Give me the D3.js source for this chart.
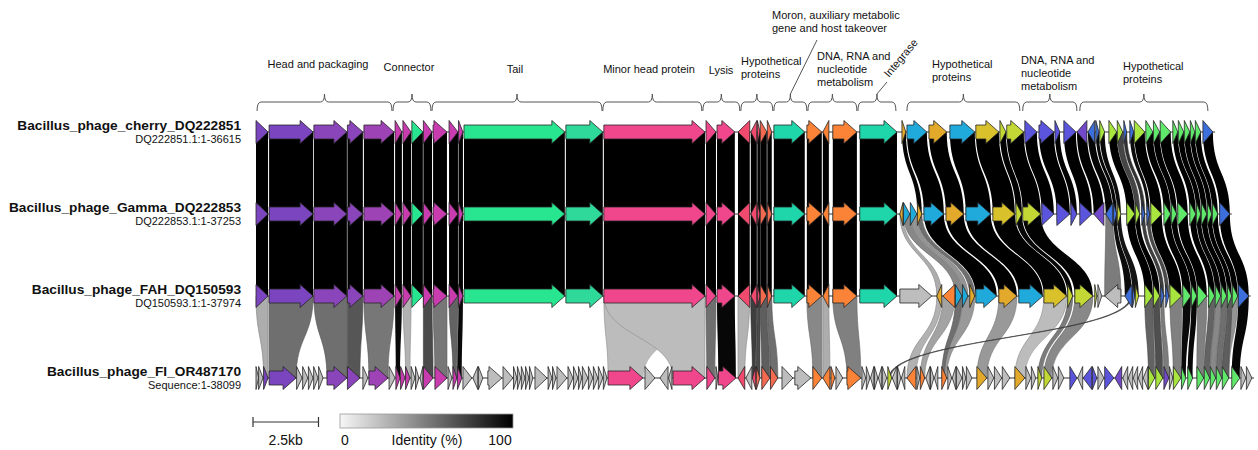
<!DOCTYPE html>
<html>
<head>
<meta charset="utf-8">
<title>Bacillus phage synteny</title>
<style>
body { margin: 0; background: #fff; }
text { font-family: "Liberation Sans", Arial, sans-serif; fill: #111; }
.brace { fill: none; stroke: #555; stroke-width: 1; }
.gene { stroke: #262626; stroke-width: 0.8; stroke-linejoin: miter; }
.backbone { stroke: #333; stroke-width: 1; }
</style>
</head>
<body>
<script src="https://cdn.jsdelivr.net/npm/d3@7"></script>
<script>
// ---- data (positions in kb) ----
var trackNames = ["Bacillus_phage_cherry_DQ222851", "Bacillus_phage_Gamma_DQ222853",
                  "Bacillus_phage_FAH_DQ150593", "Bacillus_phage_FI_OR487170"];
var trackRanges = ["DQ222851.1:1-36615", "DQ222853.1:1-37253", "DQ150593.1:1-37974", "Sequence:1-38099"];
var trackLengths = [36.615, 37.253, 37.974, 38.099];

// gene = [start, end, strand, colour group]
// structural block, identical in cherry, Gamma and FAH
var coreGenes = [
  [0.00,0.46,1,"P1"],[0.50,2.18,1,"P1"],[2.21,3.47,1,"P2"],[3.49,4.08,1,"P2"],[4.12,5.27,1,"P3"],
  [5.31,5.57,1,"M"],[5.61,5.92,1,"M"],[5.95,6.37,1,"G"],[6.39,6.72,1,"M"],[6.76,7.29,1,"M"],
  [7.37,7.71,1,"M"],[7.73,7.90,1,"M"],[7.94,11.79,1,"G"],[11.83,13.24,1,"T"],[13.28,17.14,1,"K"],
  [17.18,17.56,1,"K"],[17.60,18.28,1,"K"],[18.40,18.85,-1,"R"],[18.89,19.12,-1,"R"],[19.14,19.24,1,"R"],
  [19.25,19.50,1,"Q"],[19.52,19.69,1,"Q"],[19.77,20.95,1,"S"],[21.03,21.60,1,"O"],[21.64,21.87,-1,"O"],
  [22.02,22.94,1,"O"],[23.05,24.47,1,"S"]
];
var cherryRight = [
  [24.66,24.81,1,"Y"],[24.85,25.61,1,"C"],[25.69,26.37,1,"Y"],[26.49,27.44,1,"C"],[27.48,28.36,1,"U"],
  [28.40,28.63,1,"L"],[28.66,29.31,1,"L"],[29.35,29.81,1,"I"],[29.89,30.46,1,"I"],[30.50,30.69,1,"I"],
  [30.84,31.30,1,"I"],[31.34,31.72,-1,"V"],[31.76,32.02,-1,"B"],[32.06,32.18,1,"B"],[32.21,32.40,1,"N"],
  [32.56,32.86,1,"N"],[32.88,33.09,1,"N"],[33.13,33.24,1,"B"],[33.36,33.51,1,"B"],[33.53,33.93,1,"N"],
  [33.97,34.24,1,"E"],[34.26,34.50,1,"E"],[34.52,34.92,1,"E"],[35.00,35.19,1,"E"],[35.21,35.42,1,"E"],
  [35.44,35.65,1,"E"],[35.67,35.84,1,"E"],[35.86,36.07,1,"E"],[36.15,36.53,1,"B"]
];
var gammaRight = [
  [24.58,24.70,-1,"Y"],[24.72,24.96,1,"C"],[24.98,25.23,1,"C"],[25.25,25.42,1,"Y"],[25.50,26.26,1,"C"],
  [26.34,27.02,1,"Y"],[27.10,28.05,1,"C"],[28.13,28.97,1,"U"],[29.01,29.24,1,"L"],[29.27,29.96,1,"L"],
  [30.00,30.46,1,"I"],[30.57,31.07,1,"I"],[31.11,31.34,1,"I"],[31.45,31.91,1,"I"],[31.98,32.37,-1,"V"],
  [32.44,32.71,-1,"B"],[32.73,32.86,1,"B"],[32.88,33.02,1,"L"],[33.24,33.55,1,"N"],[33.57,33.74,1,"N"],
  [33.82,33.93,1,"B"],[34.01,34.12,1,"B"],[34.16,34.58,1,"N"],[34.66,34.92,1,"E"],[34.94,35.15,1,"E"],
  [35.19,35.57,1,"E"],[35.65,35.88,1,"E"],[35.90,36.07,1,"E"],[36.09,36.30,1,"E"],[36.32,36.49,1,"E"],
  [36.51,36.72,1,"E"],[36.79,37.18,1,"B"]
];
var fahRight = [
  [24.58,25.80,1,"X"],[25.99,26.18,-1,"Y"],[26.22,26.68,-1,"O"],[26.70,26.95,1,"C"],[26.97,27.18,1,"C"],
  [27.25,27.44,1,"Y"],[27.48,28.28,1,"C"],[28.36,29.05,1,"Y"],[29.12,30.04,1,"C"],[30.08,30.95,1,"U"],
  [30.99,31.18,1,"L"],[31.26,31.95,1,"L"],[32.02,32.10,1,"L"],[32.14,32.29,1,"X"],[32.40,33.02,-1,"X"],
  [33.17,33.44,-1,"B"],[33.46,33.55,1,"B"],[33.57,33.70,1,"L"],[33.93,34.24,1,"N"],[34.26,34.50,1,"N"],
  [34.54,34.66,1,"B"],[34.73,34.85,1,"B"],[34.89,35.34,1,"N"],[35.38,35.69,1,"E"],[35.71,35.92,1,"E"],
  [35.94,36.30,1,"E"],[36.37,36.60,1,"E"],[36.62,36.83,1,"E"],[36.85,37.06,1,"E"],[37.08,37.25,1,"E"],
  [37.27,37.48,1,"E"],[37.50,37.90,1,"B"]
];
var fiGenes = [
  [0.00,0.10,1,"X"],[0.10,0.27,1,"X"],[0.29,0.46,1,"P1"],[0.50,1.53,1,"P1"],[1.55,1.76,1,"X"],
  [1.78,1.98,1,"X"],[2.00,2.18,1,"X"],[2.20,2.37,1,"X"],[2.39,2.56,1,"X"],[2.71,3.47,1,"P2"],
  [3.49,3.97,1,"P2"],[4.08,4.27,1,"X"],[4.31,5.04,1,"P3"],[5.08,5.31,1,"X"],[5.34,5.50,1,"M"],
  [5.52,5.69,1,"M"],[5.71,5.88,1,"M"],[5.92,6.07,1,"X"],[6.09,6.22,1,"X"],[6.26,6.37,-1,"X"],
  [6.39,6.76,1,"M"],[6.83,7.29,1,"M"],[7.33,7.48,1,"X"],[7.52,7.67,1,"M"],[7.69,7.86,1,"M"],
  [7.90,8.24,1,"X"],[8.28,8.47,-1,"X"],[8.49,8.66,1,"X"],[8.85,9.39,1,"X"],[9.43,9.81,1,"X"],
  [9.83,9.96,1,"X"],[9.98,10.11,1,"X"],[10.13,10.27,1,"X"],[10.29,10.42,1,"X"],[10.44,10.57,1,"X"],
  [10.65,11.11,1,"X"],[11.15,11.30,1,"X"],[11.32,11.45,1,"X"],[11.49,11.87,1,"X"],[11.91,12.10,1,"X"],
  [12.12,12.29,1,"X"],[12.31,12.44,1,"X"],[12.46,12.67,1,"X"],[12.69,12.86,1,"X"],[12.88,13.05,1,"X"],
  [13.07,13.24,1,"X"],[13.26,13.40,1,"X"],[13.44,14.77,1,"K"],[14.85,15.23,1,"X"],[15.42,15.73,-1,"X"],
  [15.75,15.88,-1,"X"],[15.92,17.14,1,"K"],[17.21,17.52,1,"K"],[17.56,17.63,1,"X"],[17.65,18.32,1,"K"],
  [18.40,18.66,-1,"R"],[18.70,18.93,-1,"X"],[18.95,19.08,-1,"R"],[19.10,19.24,1,"Q"],[19.31,19.62,1,"Q"],
  [19.64,19.92,1,"Q"],[20.08,20.50,1,"X"],[20.57,21.18,1,"X"],[21.26,21.60,1,"O"],[21.64,21.91,-1,"O"],
  [21.95,22.10,1,"O"],[22.14,22.40,1,"X"],[22.56,23.09,1,"O"],[23.13,23.28,1,"X"],[23.30,23.44,1,"X"],
  [23.46,23.59,-1,"X"],[23.61,23.74,1,"X"],[23.76,23.89,-1,"X"],[23.91,24.08,1,"X"],[24.12,24.27,1,"L"],
  [24.29,24.47,-1,"X"],[24.49,24.62,1,"X"],[24.64,24.77,-1,"X"],[24.85,25.19,-1,"O"],[25.23,25.34,1,"X"],
  [25.36,25.53,1,"O"],[25.57,25.73,-1,"X"],[25.75,25.88,1,"X"],[25.90,26.03,-1,"X"],[26.18,26.37,1,"O"],
  [26.41,26.56,1,"X"],[26.58,26.72,-1,"X"],[26.74,26.95,1,"X"],[26.97,27.10,1,"X"],[27.12,27.33,1,"X"],
  [27.52,27.90,1,"Y"],[27.94,28.17,1,"X"],[28.19,28.47,1,"X"],[28.49,28.78,1,"X"],[28.97,29.35,1,"Y"],
  [29.39,29.58,1,"X"],[29.60,29.77,1,"X"],[29.85,30.00,1,"L"],[30.08,30.38,1,"L"],[30.42,30.61,1,"X"],
  [30.63,30.84,1,"X"],[31.07,31.34,1,"I"],[31.37,31.56,-1,"X"],[31.58,31.91,-1,"I"],[31.93,32.10,1,"I"],
  [32.14,32.37,1,"X"],[32.40,32.75,1,"I"],[32.79,33.05,-1,"V"],[33.09,33.28,-1,"X"],[33.30,33.47,-1,"X"],
  [33.49,33.66,-1,"X"],[33.68,33.85,-1,"X"],[33.87,34.05,-1,"X"],[34.07,34.31,1,"N"],[34.35,34.62,1,"N"],
  [34.66,34.85,1,"V"],[34.87,35.00,1,"X"],[35.02,35.31,1,"N"],[35.33,35.50,1,"E"],[35.57,35.76,1,"E"],
  [35.92,36.18,1,"E"],[36.20,36.41,1,"E"],[36.43,36.64,1,"E"],[36.66,36.87,1,"E"],[36.89,37.14,1,"E"],
  [37.25,37.56,1,"E"],[37.60,37.79,1,"X"],[37.81,38.02,1,"X"]
];

// identity (%) of the structural block, gene by gene
var coreIdentity12 = [100,100,100,100,100,100,100,100,100,100,100,100,100,100,100,100,100,100,100,100,100,100,100,100,100,100,100];
var coreIdentity23 = [100,100,100,100,100,100,100,100,100,100,100,100,100,100,100,100,100,100,100,100,100,100,100,100,100,100,100];

// link = [upper start, upper end, lower start, lower end, identity %]
var links12Right = [
  [24.66,24.81,25.25,25.42,98],[24.85,25.61,25.50,26.26,100],[25.69,26.37,26.34,27.02,100],
  [26.49,27.44,27.10,28.05,100],[27.48,28.36,28.13,28.97,100],[28.40,28.63,29.01,29.24,99],
  [28.66,29.31,29.27,29.96,100],[29.35,29.81,30.00,30.46,100],[29.89,30.46,30.57,31.07,100],
  [30.50,30.69,31.11,31.34,99],[30.84,31.30,31.45,31.91,100],[31.34,31.72,31.98,32.37,100],
  [31.76,32.02,32.44,32.71,98],[32.06,32.18,32.73,32.86,97],[32.21,32.40,32.88,33.02,96],
  [32.56,32.86,33.24,33.55,100],[32.88,33.09,33.57,33.74,72],[33.13,33.24,33.82,33.93,80],
  [33.36,33.51,34.01,34.12,95],[33.53,33.93,34.16,34.58,100],[33.97,34.24,34.66,34.92,100],
  [34.26,34.50,34.94,35.15,100],[34.52,34.92,35.19,35.57,100],[35.00,35.19,35.65,35.88,100],
  [35.21,35.42,35.90,36.07,100],[35.44,35.65,36.09,36.30,100],[35.67,35.84,36.32,36.49,100],
  [35.86,36.07,36.51,36.72,100],[36.15,36.53,36.79,37.18,100]
];
var links23Right = [
  [24.58,24.70,25.99,26.18,30],[24.72,24.96,26.70,26.95,45],[24.98,25.23,26.97,27.18,40],
  [25.25,25.42,27.25,27.44,55],[25.50,26.26,27.48,28.28,100],[26.34,27.02,28.36,29.05,100],
  [27.10,28.05,29.12,30.04,100],[28.13,28.97,30.08,30.95,99],[29.01,29.24,30.99,31.18,97],
  [29.27,29.96,31.26,31.95,99],[32.44,32.71,32.40,33.02,50],[32.73,32.86,33.17,33.44,95],
  [32.88,33.02,33.46,33.70,92],[33.24,33.55,33.93,34.24,100],[33.57,33.74,34.26,34.50,100],
  [33.82,33.93,34.54,34.66,75],[34.01,34.12,34.73,34.85,70],[34.16,34.58,34.89,35.34,100],
  [34.66,34.92,35.38,35.69,100],[34.94,35.15,35.71,35.92,100],[35.19,35.57,35.94,36.30,100],
  [35.65,35.88,36.37,36.60,100],[35.90,36.07,36.62,36.83,98],[36.09,36.30,36.85,37.06,100],
  [36.32,36.49,37.08,37.25,100],[36.51,36.72,37.27,37.48,100],[36.79,37.18,37.50,37.90,100]
];
var links34 = [
  [0.00,0.46,0.29,0.46,30],[0.50,2.18,0.50,1.53,55],[2.21,3.47,2.71,3.47,55],[3.49,4.08,3.49,3.97,65],
  [4.12,5.27,4.31,5.04,52],[5.31,5.57,5.34,5.50,96],[5.61,5.92,5.71,5.88,28],[6.39,6.72,6.39,6.76,70],
  [6.76,7.29,6.83,7.29,52],[7.37,7.71,7.52,7.67,60],[7.73,7.90,7.69,7.86,96],
  [13.28,17.14,13.44,14.77,24],[13.28,17.14,15.92,17.14,24],
  [17.18,17.56,17.21,17.52,55],[17.60,18.28,17.65,18.32,97],[18.40,18.85,18.40,18.66,28],
  [18.89,19.12,18.95,19.08,75],[19.14,19.24,19.10,19.24,70],[19.25,19.50,19.31,19.62,62],
  [19.52,19.69,19.64,19.92,55],[21.03,21.60,21.26,21.60,45],[21.64,21.87,21.64,21.91,30],
  [22.02,22.94,22.56,23.09,48],
  [25.99,26.18,24.85,25.19,28],[26.22,26.68,25.36,25.53,34],[26.70,26.95,26.18,26.28,55],
  [26.97,27.44,26.28,26.37,38],[28.36,29.05,27.52,27.90,38],[30.08,30.95,28.97,29.35,24],
  [30.99,31.18,29.85,30.00,50],[31.26,31.95,30.08,30.38,45],[33.38,33.44,24.17,24.23,70],
  [33.93,34.24,34.07,34.31,60],[34.26,34.50,34.35,34.62,68],[34.54,34.66,34.66,34.85,50],
  [34.89,35.34,35.02,35.31,48],[35.38,35.69,35.33,35.50,96],[35.71,35.92,35.57,35.76,97],
  [35.94,36.30,35.92,36.18,48],[36.37,36.60,36.20,36.41,60],[36.62,36.83,36.43,36.64,45],
  [36.85,37.06,36.66,36.87,55],[37.08,37.25,36.89,37.14,62],[37.27,37.48,36.89,37.14,40],
  [37.50,37.90,37.25,37.56,97]
];

var groupLabels = ["Head and packaging", "Connector", "Tail", "Minor head protein", "Lysis",
  "Hypothetical\nproteins", "Moron, auxiliary metabolic\ngene and host takeover",
  "DNA, RNA and\nnucleotide\nmetabolism", "Integrase", "Hypothetical\nproteins",
  "DNA, RNA and\nnucleotide\nmetabolism", "Hypothetical\nproteins"];
var groupStart = [0.04, 5.23, 6.72, 13.24, 17.06, 18.51, 19.77, 21.07, 22.98, 24.85, 29.27, 31.45];
var groupEnd   = [5.19, 6.68, 13.21, 17.02, 18.47, 19.73, 21.03, 22.94, 24.43, 29.16, 31.34, 36.34];

var colorKeys = ["P1","P2","P3","M","G","T","K","R","Q","S","O","C","Y","U","L","I","V","B","N","E","X"];
var colorVals = ["#7b45bf","#8a45ba","#9d43b5","#c83cb0","#28e58f","#2fd99a","#f0468c","#f04a6e","#f26a50","#1fd6aa",
                 "#fa8338","#20a9db","#e2a92b","#d9c12b","#c3d735","#5a55dc","#7249c8","#3c6fdb","#a8e63f","#5fe86a","#bdbdbd"];

// ---- build tables ----
var tracks = [coreGenes.concat(cherryRight), coreGenes.concat(gammaRight), coreGenes.concat(fahRight), fiGenes];
var bands = [
  coreGenes.map(function(g, i){ return [g[0], g[1], g[0], g[1], coreIdentity12[i]]; }).concat(links12Right),
  coreGenes.map(function(g, i){ return [g[0], g[1], g[0], g[1], coreIdentity23[i]]; }).concat(links23Right),
  links34
];

var width = 1258, height = 450;
var svg = d3.select("body").append("svg").attr("width", width).attr("height", height);

var x = d3.scaleLinear().domain([0, 38.1]).range([256, 1254]);
var y = d3.scalePoint().domain(d3.range(4)).range([132, 378]);
var geneColor = d3.scaleOrdinal().domain(colorKeys).range(colorVals);
var idColor = d3.scaleLinear().domain([0, 100]).range(["#f7f7f7", "#000000"]);

function ribbon(l, y1, y2) {
  var a1 = x(l[0]), a2 = x(l[1]), b1 = x(l[2]), b2 = x(l[3]), ym = (y1 + y2) / 2;
  return "M" + a1 + "," + y1 + "L" + a2 + "," + y1 +
         "C" + a2 + "," + ym + " " + b2 + "," + ym + " " + b2 + "," + y2 +
         "L" + b1 + "," + y2 +
         "C" + b1 + "," + ym + " " + a1 + "," + ym + " " + a1 + "," + y1 + "Z";
}

function arrow(g, yc) {
  var a = x(g[0]), b = x(g[1]), w = b - a;
  var hl = Math.min(13, w), bh = 7, hh = 11.5;
  if (g[2] > 0) {
    if (hl >= w) return "M" + a + "," + (yc - hh) + "L" + b + "," + yc + "L" + a + "," + (yc + hh) + "Z";
    var n = b - hl;
    return "M" + a + "," + (yc - bh) + "L" + n + "," + (yc - bh) + "L" + n + "," + (yc - hh) + "L" + b + "," + yc +
           "L" + n + "," + (yc + hh) + "L" + n + "," + (yc + bh) + "L" + a + "," + (yc + bh) + "Z";
  } else {
    if (hl >= w) return "M" + b + "," + (yc - hh) + "L" + a + "," + yc + "L" + b + "," + (yc + hh) + "Z";
    var m = a + hl;
    return "M" + b + "," + (yc - bh) + "L" + m + "," + (yc - bh) + "L" + m + "," + (yc - hh) + "L" + a + "," + yc +
           "L" + m + "," + (yc + hh) + "L" + m + "," + (yc + bh) + "L" + b + "," + (yc + bh) + "Z";
  }
}

// ribbons
bands.forEach(function(band, bi) {
  svg.append("g").selectAll("path")
    .data(band.slice().sort(function(p, q){ return p[4] - q[4]; }))
    .enter().append("path")
    .attr("d", function(d){ return ribbon(d, y(bi), y(bi + 1)); })
    .attr("fill", function(d){ return idColor(d[4]); })
    .attr("stroke", function(d){ return d[4] < 90 ? d3.color(idColor(d[4])).darker(0.8) : "none"; })
    .attr("stroke-width", 0.6);
});

// tracks
tracks.forEach(function(genes, ti) {
  var g = svg.append("g");
  g.append("line").attr("class", "backbone")
    .attr("x1", x(0)).attr("x2", x(trackLengths[ti]))
    .attr("y1", y(ti)).attr("y2", y(ti));
  g.selectAll("path").data(genes).enter().append("path")
    .attr("class", "gene")
    .attr("d", function(d){ return arrow(d, y(ti)); })
    .attr("fill", function(d){ return geneColor(d[3]); });
  g.append("text").attr("x", 241).attr("y", y(ti) - 2)
    .attr("text-anchor", "end").attr("font-size", "13.7px").attr("font-weight", "bold")
    .text(trackNames[ti]);
  g.append("text").attr("x", 241).attr("y", y(ti) + 11)
    .attr("text-anchor", "end").attr("font-size", "11px").attr("fill", "#222")
    .text(trackRanges[ti]);
});

// functional group braces
var labelLayout = [
  {x: 318, y: 68, anchor: "middle"}, {x: 409, y: 71, anchor: "middle"}, {x: 515, y: 73, anchor: "middle"},
  {x: 649, y: 73, anchor: "middle"}, {x: 721, y: 74, anchor: "middle"}, {x: 741, y: 65, anchor: "start"},
  {x: 772, y: 19, anchor: "start"}, {x: 817, y: 60, anchor: "start"}, {x: 889, y: 78, anchor: "start", rot: -50},
  {x: 932, y: 68, anchor: "start"}, {x: 1021, y: 64, anchor: "start"}, {x: 1123, y: 70, anchor: "start"}
];
var ann = svg.append("g");
groupLabels.forEach(function(lab, i) {
  var a = x(groupStart[i]), b = x(groupEnd[i]), m = (a + b) / 2;
  ann.append("path").attr("class", "brace")
    .attr("d", "M" + a + ",111Q" + a + ",102 " + (a + 4) + ",102L" + (m - 4) + ",102Q" + m + ",102 " + m + ",94" +
               "Q" + m + ",102 " + (m + 4) + ",102L" + (b - 4) + ",102Q" + b + ",102 " + b + ",111");
  var L = labelLayout[i];
  var t = ann.append("text").attr("x", L.x).attr("y", L.y)
    .attr("text-anchor", L.anchor).attr("font-size", "11px").attr("fill", "#222");
  if (L.rot) t.attr("transform", "rotate(" + L.rot + "," + L.x + "," + L.y + ")");
  lab.split("\n").forEach(function(s, k) {
    t.append("tspan").attr("x", L.x).attr("dy", k === 0 ? 0 : 12.8).text(s);
  });
});
// leader lines for moron and integrase labels
ann.append("line").attr("class", "brace")
  .attr("x1", (x(groupStart[6]) + x(groupEnd[6])) / 2).attr("y1", 94).attr("x2", 817).attr("y2", 40);
ann.append("line").attr("class", "brace")
  .attr("x1", (x(groupStart[8]) + x(groupEnd[8])) / 2).attr("y1", 94).attr("x2", 887).attr("y2", 82);

// scale bar
var sb = svg.append("g").attr("stroke", "#333").attr("stroke-width", 1.2);
var sbx0 = x(0) - 3, sbx1 = x(2.5) - 3;
sb.append("line").attr("x1", sbx0).attr("x2", sbx1).attr("y1", 422).attr("y2", 422);
sb.append("line").attr("x1", sbx0).attr("x2", sbx0).attr("y1", 417).attr("y2", 427);
sb.append("line").attr("x1", sbx1).attr("x2", sbx1).attr("y1", 417).attr("y2", 427);
svg.append("text").attr("x", (sbx0 + sbx1) / 2).attr("y", 445).attr("text-anchor", "middle")
  .attr("font-size", "14px").text("2.5kb");

// identity legend
var grad = svg.append("defs").append("linearGradient").attr("id", "idgrad");
grad.append("stop").attr("offset", "0%").attr("stop-color", idColor(0));
grad.append("stop").attr("offset", "100%").attr("stop-color", idColor(100));
svg.append("rect").attr("x", 340).attr("y", 414).attr("width", 173).attr("height", 14)
  .attr("fill", "url(#idgrad)").attr("stroke", "#999").attr("stroke-width", 0.8);
svg.append("text").attr("x", 345).attr("y", 445).attr("text-anchor", "middle").attr("font-size", "14px").text("0");
svg.append("text").attr("x", 427).attr("y", 445).attr("text-anchor", "middle").attr("font-size", "14px").text("Identity (%)");
svg.append("text").attr("x", 500).attr("y", 445).attr("text-anchor", "middle").attr("font-size", "14px").text("100");
</script>
</body>
</html>
